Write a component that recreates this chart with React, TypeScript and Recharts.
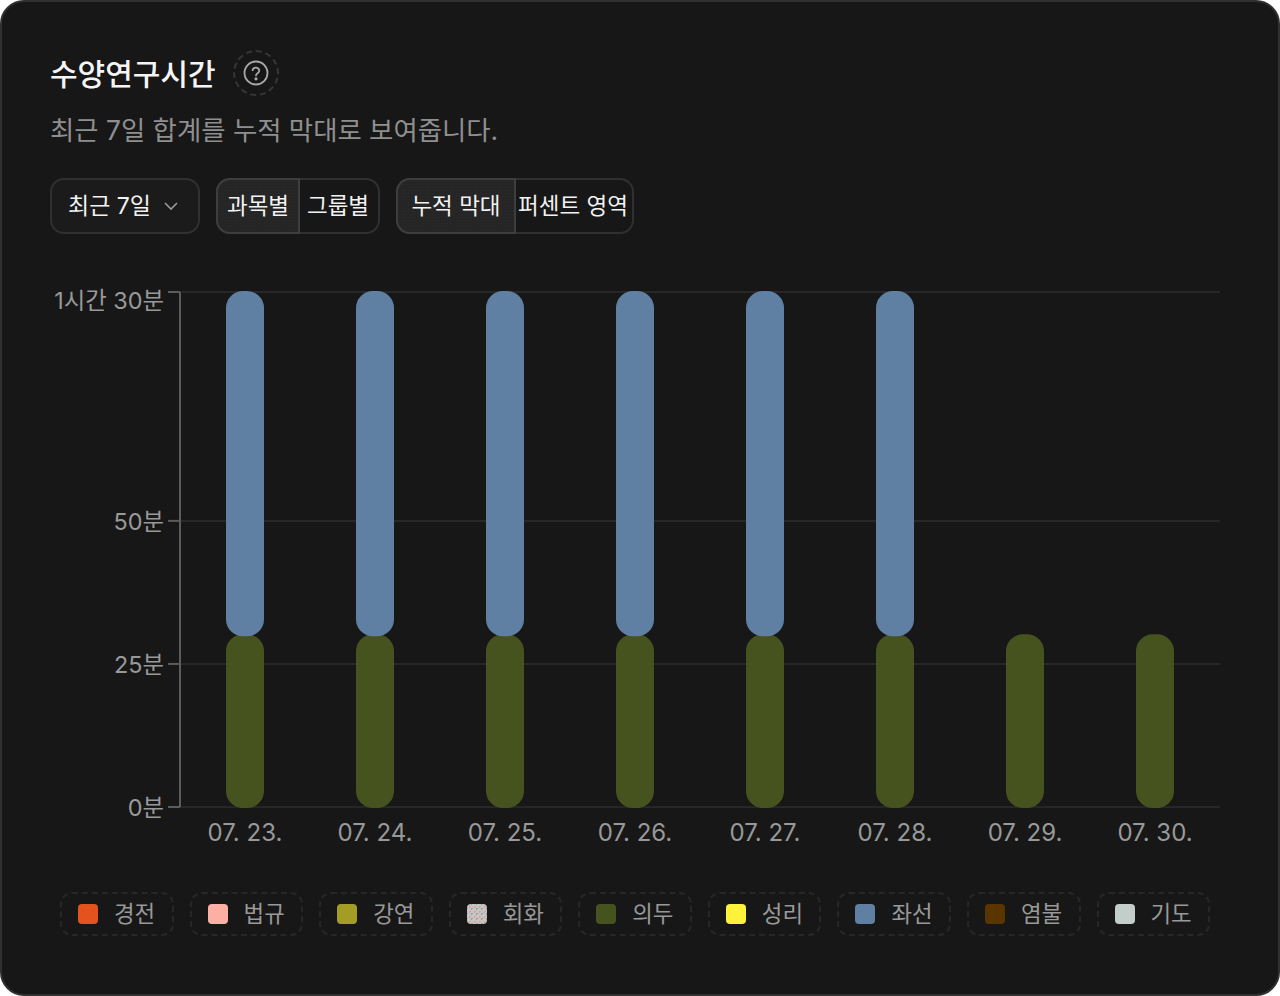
import React from 'react';
import { BarChart, Bar, XAxis, YAxis, CartesianGrid, Legend } from 'recharts';

const dates = ['07. 23.', '07. 24.', '07. 25.', '07. 26.', '07. 27.', '07. 28.', '07. 29.', '07. 30.'];
const uidu = [30, 30, 30, 30, 30, 30, 30, 30];
const zazen = [60, 60, 60, 60, 60, 60, 0, 0];
const yTicks = [0, 25, 50, 90];
const yTickLabels: Record<number, string> = { 0: '0분', 25: '25분', 50: '50분', 90: '1시간 30분' };
const subjects = ['경전', '법규', '강연', '회화', '의두', '성리', '좌선', '염불', '기도'];
const subjectColors = ['#e4521d', '#fbb0a3', '#a39d25', '#c4c4c4', '#47531f', '#fff23a', '#5f80a3', '#5a3500', '#c3cecb'];

const FONT = 'Inter, "Noto Sans CJK KR", sans-serif';

const data = dates.map((date, i) => ({
  date,
  의두: uidu[i],
  좌선: zazen[i],
}));

const YTick = (props: any) => {
  const { x, y, payload } = props;
  // top label sits below its tick so it stays inside the plot height
  const dy = payload.value === 90 ? 17 : 9;
  return (
    <text x={x} y={y + dy} textAnchor="end" fill="#999999" fontSize={23.4} fontFamily={FONT}>
      {yTickLabels[payload.value]}
    </text>
  );
};

const LegendContent = () => (
  <div style={{ display: 'flex', gap: 16, height: 44 }}>
    {subjects.map((name, i) => (
      <div
        key={name}
        style={{
          flex: 1,
          boxSizing: 'border-box',
          border: '2px dashed #272727',
          borderRadius: 12,
          display: 'flex',
          alignItems: 'center',
          paddingLeft: 16,
          gap: 16,
          color: '#999999',
          fontSize: 22.4,
          fontFamily: FONT,
        }}
      >
        <span
          style={{
            width: 20,
            height: 20,
            borderRadius: 4,
            background: name === '회화'
              ? 'radial-gradient(circle, #e89c90 1px, transparent 1px) 0 0 / 5px 5px, radial-gradient(circle, #8fa5a3 1px, transparent 1px) 2px 2px / 5px 5px, #c6c6c6'
              : subjectColors[i],
          }}
        />
        <span style={{ transform: 'translateY(-2px)' }}>{name}</span>
      </div>
    ))}
  </div>
);

const stipple = 'radial-gradient(circle, #2b2b2b 0.7px, transparent 0.8px) 0 0 / 3px 3px, #252525';

const Segment = ({ left, width, label, active }: any) => (
  <div
    style={{
      position: 'absolute',
      left,
      top: active ? -2 : 0,
      width,
      height: active ? 56 : '100%',
      display: 'flex',
      alignItems: 'center',
      justifyContent: 'center',
      background: active ? stipple : 'transparent',
      border: active ? '2px solid #3e3e3e' : 'none',
      borderRadius: active ? '14px 0 0 14px' : 0,
      boxSizing: 'border-box',
      whiteSpace: 'nowrap',
    }}
  >
    <span style={{ transform: 'translateY(-2px)' }}>{label}</span>
  </div>
);

const controlBox: React.CSSProperties = {
  position: 'absolute',
  top: 178,
  height: 56,
  boxSizing: 'border-box',
  border: '2px solid #303030',
  borderRadius: 14,
  color: '#f2f2f2',
  fontSize: 22.5,
  fontFamily: FONT,
};

export default function App() {
  return (
    <div
      style={{
        position: 'fixed',
        left: 0,
        top: 0,
        width: 1280,
        height: 996,
        background: '#171717',
        border: '2px solid #303030',
        borderRadius: 24,
        boxSizing: 'border-box',
        overflow: 'hidden',
      }}
    >
      <div style={{ position: 'absolute', inset: -2 }}>
        <div style={{ position: 'absolute', left: 50, top: 53, color: '#f5f5f5', fontSize: 30, fontWeight: 500, fontFamily: FONT, lineHeight: '42px' }}>
          수양연구시간
        </div>
        <div style={{ position: 'absolute', left: 233, top: 50, width: 46, height: 46, boxSizing: 'border-box', border: '2px dashed #363636', borderRadius: '50%', display: 'flex', alignItems: 'center', justifyContent: 'center' }}>
          <svg width="26" height="26" viewBox="0 0 26 26" fill="none" stroke="#a8a8a8" strokeWidth="1.8">
            <circle cx="13" cy="13" r="11.5" />
            <path d="M9.6 10.2a3.4 3.4 0 0 1 6.7.6c0 2.2-3.3 2.6-3.3 4.6" strokeLinecap="round" />
            <circle cx="13" cy="18.8" r="0.7" fill="#a8a8a8" />
          </svg>
        </div>
        <div style={{ position: 'absolute', left: 50, top: 112, color: '#8f8f8f', fontSize: 26.4, fontFamily: FONT, lineHeight: '36px' }}>
          최근 7일 합계를 누적 막대로 보여줍니다.
        </div>

        <div style={{ ...controlBox, left: 50, width: 150, background: '#1b1b1b', fontSize: 23 }}>
          <div style={{ position: 'absolute', left: 16, top: -2, height: '100%', display: 'flex', alignItems: 'center' }}>최근 7일</div>
          <svg style={{ position: 'absolute', left: 111, top: 20 }} width="16" height="12" viewBox="0 0 16 12" fill="none" stroke="#999" strokeWidth="1.6">
            <path d="M2 3l6 6 6-6" />
          </svg>
        </div>
        <div style={{ ...controlBox, left: 216, width: 164 }}>
          <Segment left={-2} width={84} label="과목별" active />
          <Segment left={82} width={76} label="그룹별" />
        </div>
        <div style={{ ...controlBox, left: 396, width: 238 }}>
          <Segment left={-2} width={120} label="누적 막대" active />
          <Segment left={118} width={114} label="퍼센트 영역" />
        </div>

        <BarChart
          width={1280}
          height={996}
          data={data}
          margin={{ top: 292, right: 60, left: 0, bottom: 60 }}
          style={{ position: 'absolute', left: 0, top: 0 }}
        >
          <CartesianGrid vertical={false} stroke="#272727" strokeWidth={2} />
          <XAxis
            dataKey="date"
            height={85}
            tickLine={false}
            axisLine={false}
            tickMargin={11}
            tick={{ fill: '#999999', fontSize: 24, fontFamily: FONT }}
            interval={0}
          />
          <YAxis
            width={180}
            domain={[0, 90]}
            ticks={yTicks}
            tick={<YTick />}
            tickSize={12}
            tickMargin={4}
            axisLine={{ stroke: '#5c5c5c', strokeWidth: 2 }}
            tickLine={{ stroke: '#5c5c5c', strokeWidth: 2 }}
          />
          <Legend
            verticalAlign="bottom"
            height={44}
            content={<LegendContent />}
            wrapperStyle={{ left: 60, width: 1150 }}
          />
          {subjects.map((name, i) => (
            <Bar
              key={name}
              dataKey={name}
              stackId="subject"
              fill={subjectColors[i]}
              stroke={subjectColors[i]}
              strokeWidth={2}
              barSize={36}
              radius={16}
              isAnimationActive={false}
            />
          ))}
        </BarChart>
      </div>
    </div>
  );
}
